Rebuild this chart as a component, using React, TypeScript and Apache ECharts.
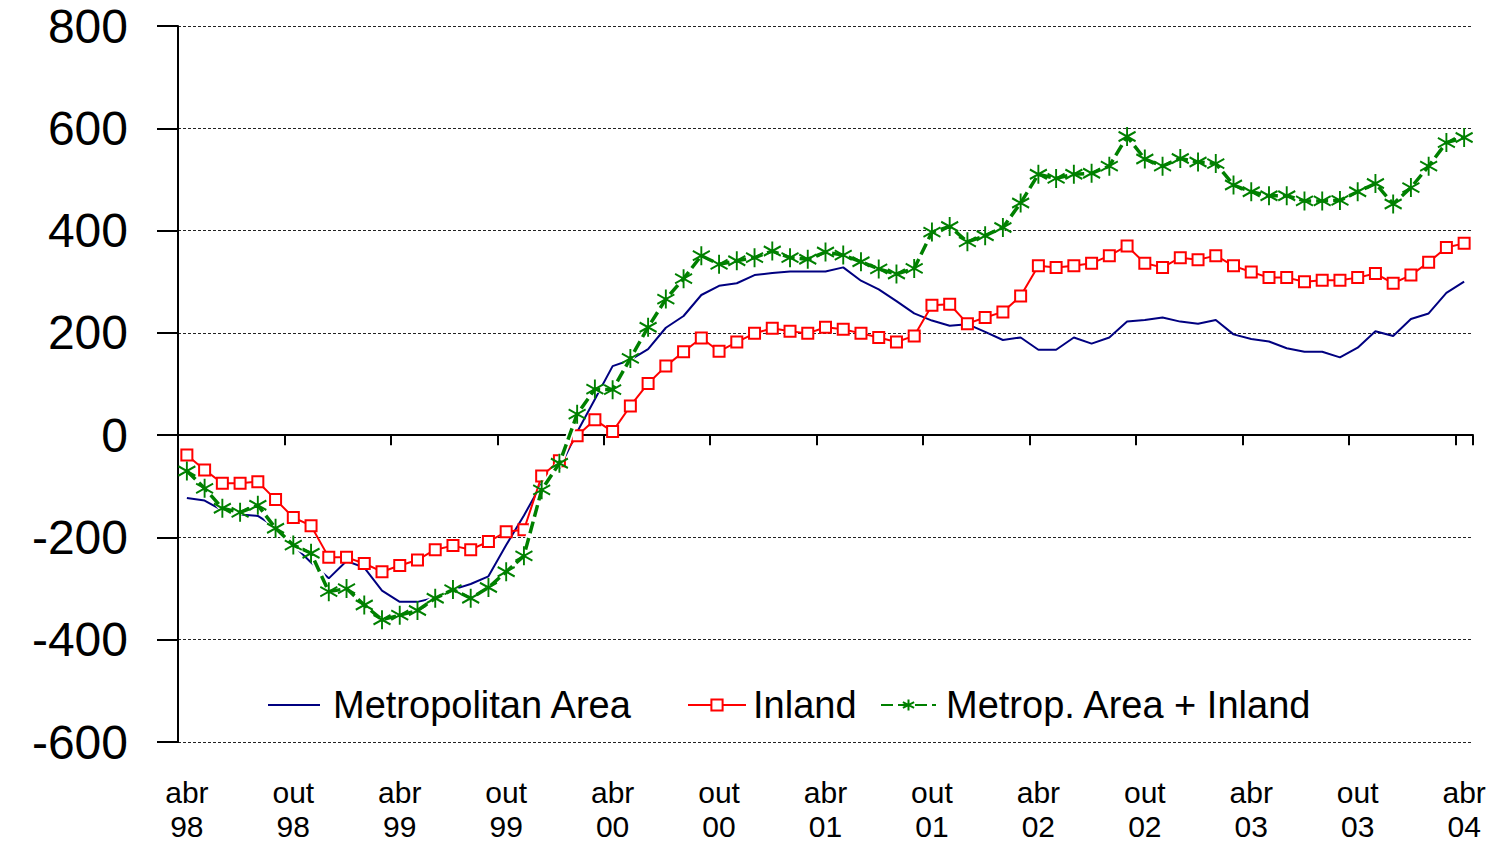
import React, { useEffect, useRef } from "react";
import * as echarts from "echarts";

const FONT = "'Liberation Sans', Arial, Helvetica, sans-serif";

// Portuguese month abbreviations; the axis runs monthly from abr 98 to abr 04
const MONTHS = ["jan", "fev", "mar", "abr", "mai", "jun", "jul", "ago", "set", "out", "nov", "dez"];
const START_MONTH = 3; // abr
const START_YEAR = 98;
const N_MONTHS = 73;

const categories: string[] = [];
for (let k = 0; k < N_MONTHS; k++) {
  const m = (START_MONTH + k) % 12;
  const y = (START_YEAR + Math.floor((START_MONTH + k) / 12)) % 100;
  categories.push(`${MONTHS[m]} ${String(y).padStart(2, "0")}`);
}

const metropolitan = [
  -123, -128, -147, -155, -158, -180, -215, -249, -280, -246, -259, -304, -326,
  -326, -318, -302, -291, -276, -215, -157, -95, -65, 6, 70, 135,
  147, 168, 210, 233, 274, 292, 297, 313, 317, 320, 320, 320,
  328, 302, 285, 262, 238, 224, 214, 217, 202, 186, 191, 167,
  167, 191, 179, 191, 222, 225, 230, 222, 218, 225, 197, 188,
  183, 170, 163, 163, 152, 171, 203, 194, 227, 238, 278, 300,
];

const inland = [
  -39, -68, -94, -94, -91, -126, -161, -177, -239, -239, -251, -267, -255,
  -244, -224, -216, -224, -208, -189, -185, -80, -50, -1, 30, 7,
  57, 101, 135, 163, 190, 164, 182, 199, 209, 203, 199, 211,
  207, 199, 191, 182, 194, 254, 256, 218, 230, 241, 272, 331,
  328, 331, 336, 351, 370, 336, 328, 347, 343, 351, 331, 319,
  308, 308, 300, 303, 303, 308, 316, 297, 313, 338, 367, 375,
];

const combined = [
  -70, -104, -143, -151, -137, -182, -215, -231, -306, -300, -332, -361, -352,
  -343, -319, -302, -319, -298, -267, -236, -107, -55, 41, 90, 89,
  150, 211, 266, 306, 351, 334, 341, 347, 360, 347, 344, 358,
  352, 339, 325, 315, 326, 397, 408, 378, 390, 406, 454, 510,
  502, 510, 512, 526, 584, 540, 526, 541, 534, 531, 489, 476,
  468, 468, 458, 458, 459, 476, 492, 452, 484, 526, 572, 582,
];

const SERIES_NAMES = ["Metropolitan Area", "Inland", "Metrop. Area + Inland"];
const Y_MIN = -600;
const Y_MAX = 800;
const Y_STEP = 200;

const NAVY = "#000080";
const RED = "#ff0000";
const GREEN = "#008000";
const ASTERISK = "path://M8,0L8,18M0,4.5L16,13.5M0,13.5L16,4.5";

export default function App() {
  const ref = useRef<HTMLDivElement>(null);

  useEffect(() => {
    document.body.style.margin = "0";
    if (!ref.current) return;
    const chart = echarts.init(ref.current, undefined, { renderer: "svg" });

    const legendText = { fontSize: 38, color: "#000", fontFamily: FONT };

    chart.setOption({
      animation: false,
      backgroundColor: "#ffffff",
      textStyle: { fontFamily: FONT },
      grid: {
        left: 178,
        right: 22,
        top: 26,
        bottom: 102,
        containLabel: false,
        outerBoundsMode: "none",
      },
      legend: [
        {
          orient: "horizontal",
          top: 681,
          left: 263,
          itemWidth: 52,
          itemHeight: 2,
          data: [{ name: SERIES_NAMES[0], icon: "rect", itemStyle: { color: NAVY } }],
          textStyle: { ...legendText, padding: [0, 0, 0, 8] },
        },
        {
          orient: "horizontal",
          top: 681,
          left: 682,
          itemWidth: 58,
          itemHeight: 14,
          data: [SERIES_NAMES[1]],
          textStyle: { ...legendText, padding: [0, 0, 0, 2] },
        },
        {
          orient: "horizontal",
          top: 681,
          left: 875,
          itemWidth: 55,
          itemHeight: 14,
          data: [SERIES_NAMES[2]],
          textStyle: { ...legendText, padding: [0, 0, 0, 5] },
        },
      ],
      xAxis: [
        {
          type: "category",
          data: categories,
          boundaryGap: true,
          position: "bottom",
          axisLine: { show: false, onZero: false },
          axisTick: { show: false },
          splitLine: { show: false },
          axisLabel: {
            interval: 5,
            formatter: (v: string) => v.replace(" ", "\n"),
            fontSize: 30,
            lineHeight: 34,
            color: "#000",
            margin: 33,
            fontFamily: FONT,
          },
        },
        {
          type: "category",
          data: categories,
          boundaryGap: true,
          position: "bottom",
          axisLine: { show: true, onZero: true, lineStyle: { color: "#000", width: 2 } },
          axisTick: { show: true, interval: 5, length: 10, lineStyle: { color: "#000", width: 2 } },
          axisLabel: { show: false },
          splitLine: { show: false },
        },
      ],
      yAxis: {
        type: "value",
        min: Y_MIN,
        max: Y_MAX,
        interval: Y_STEP,
        axisLine: { show: true, lineStyle: { color: "#000", width: 2 } },
        axisTick: { show: true, length: 21, lineStyle: { color: "#000", width: 2 } },
        axisLabel: {
          fontSize: 48,
          color: "#000",
          margin: 50,
          padding: [8, 0, 0, 0],
          fontFamily: FONT,
        },
        splitLine: { show: true, lineStyle: { color: "#222", width: 1, type: [3, 2] } },
      },
      series: [
        {
          name: SERIES_NAMES[0],
          type: "line",
          data: metropolitan,
          z: 2,
          symbol: "none",
          color: NAVY,
          lineStyle: { color: NAVY, width: 2 },
        },
        {
          name: SERIES_NAMES[1],
          type: "line",
          data: inland,
          z: 3,
          symbol: "rect",
          symbolSize: 11,
          showAllSymbol: true,
          color: RED,
          lineStyle: { color: RED, width: 2 },
          itemStyle: { color: "#ffffff", borderColor: RED, borderWidth: 2 },
        },
        {
          // white casing under the dashed combined line
          type: "line",
          data: combined,
          z: 4,
          symbol: "none",
          silent: true,
          lineStyle: { color: "#ffffff", width: 7 },
        },
        {
          name: SERIES_NAMES[2],
          type: "line",
          data: combined,
          z: 5,
          symbol: ASTERISK,
          symbolSize: [17, 19],
          showAllSymbol: true,
          color: GREEN,
          lineStyle: { color: GREEN, width: 3.5, type: [12, 5] },
          itemStyle: { color: "transparent", borderColor: GREEN, borderWidth: 2 },
        },
      ],
    });

    return () => chart.dispose();
  }, []);

  return <div ref={ref} style={{ width: 1495, height: 844 }} />;
}
